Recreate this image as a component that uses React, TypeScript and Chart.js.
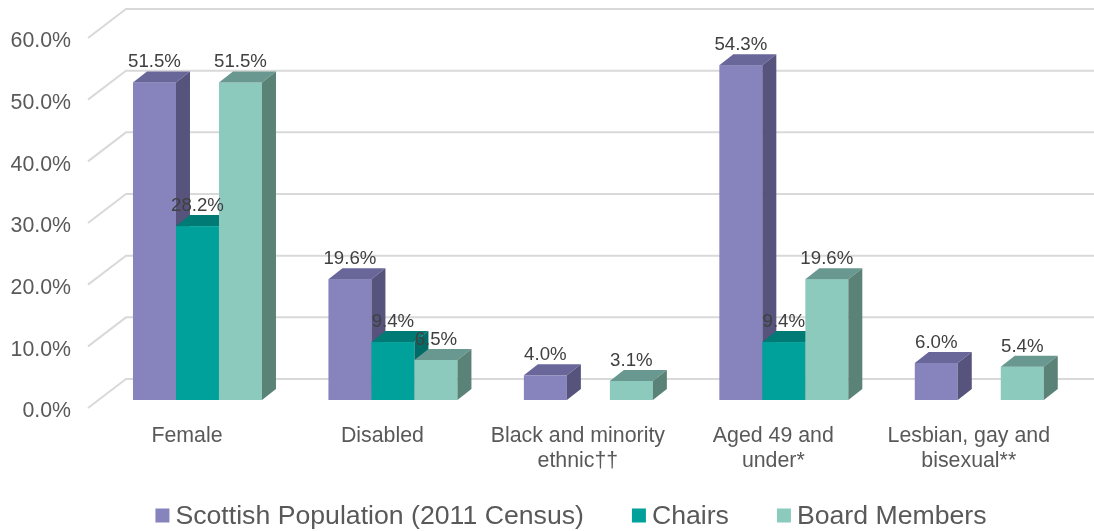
import React, { useEffect, useRef } from "react";
import { Chart, registerables } from "chart.js";

Chart.register(...registerables);

// ---------- data ----------
const categories: string[][] = [
  ["Female"],
  ["Disabled"],
  ["Black and minority", "ethnic††"],
  ["Aged 49 and", "under*"],
  ["Lesbian, gay and", "bisexual**"],
];
const seriesNames = ["Scottish Population (2011 Census)", "Chairs", "Board Members"];
const scottishPopulation: (number | null)[] = [51.5, 19.6, 4.0, 54.3, 6.0];
const chairs: (number | null)[] = [28.2, 9.4, null, 9.4, null];
const boardMembers: (number | null)[] = [51.5, 6.5, 3.1, 19.6, 5.4];
const yTickValues = [0, 10, 20, 30, 40, 50, 60];

// ---------- styles ----------
const FONT = '"Liberation Sans", Arial, Helvetica, sans-serif';
const FACE_COLORS = [
  { front: "#8784BD", top: "#69669A", side: "#56537C" },
  { front: "#00A19A", top: "#007A74", side: "#006B66" },
  { front: "#8CCABE", top: "#68988F", side: "#5A8276" },
];
const GRID_COLOR = "#D9D9D9";
const BAR_DX = 14;
const BAR_DY = -11;
const GRID_FRONT = { dx: -11.75, dy: 8 };
const GRID_BACK = { dx: 26.25, dy: -21 };
const LEGEND_CENTER_X = 571;
const LEGEND_BASELINE = 524;

const threeDPlugin = {
  id: "threeD",
  beforeDatasetsDraw(chart: any) {
    const { ctx, chartArea } = chart;
    const y = chart.scales.y;
    ctx.save();
    // perspective gridlines
    ctx.strokeStyle = GRID_COLOR;
    ctx.lineWidth = 2;
    for (const v of yTickValues) {
      const py = y.getPixelForValue(v);
      ctx.beginPath();
      ctx.moveTo(chartArea.left + GRID_FRONT.dx, py + GRID_FRONT.dy);
      ctx.lineTo(chartArea.left + GRID_BACK.dx, py + GRID_BACK.dy);
      ctx.lineTo(chart.width, py + GRID_BACK.dy);
      ctx.stroke();
    }
    // 3D bars
    chart.data.datasets.forEach((ds: any, i: number) => {
      const meta = chart.getDatasetMeta(i);
      const c = FACE_COLORS[i];
      meta.data.forEach((el: any, j: number) => {
        const v = ds.data[j];
        if (v == null) return;
        const { x, y: ty, base, width } = el.getProps(["x", "y", "base", "width"], true);
        const l = x - width / 2;
        const r = x + width / 2;
        // front
        ctx.fillStyle = c.front;
        ctx.fillRect(l, ty, width, base - ty);
        // top
        ctx.fillStyle = c.top;
        ctx.beginPath();
        ctx.moveTo(l, ty);
        ctx.lineTo(r, ty);
        ctx.lineTo(r + BAR_DX, ty + BAR_DY);
        ctx.lineTo(l + BAR_DX, ty + BAR_DY);
        ctx.closePath();
        ctx.fill();
        // side
        ctx.fillStyle = c.side;
        ctx.beginPath();
        ctx.moveTo(r, ty);
        ctx.lineTo(r + BAR_DX, ty + BAR_DY);
        ctx.lineTo(r + BAR_DX, base + BAR_DY);
        ctx.lineTo(r, base);
        ctx.closePath();
        ctx.fill();
      });
    });
    // value labels
    ctx.fillStyle = "#404040";
    ctx.font = `18.67px ${FONT}`;
    ctx.textAlign = "center";
    ctx.textBaseline = "alphabetic";
    chart.data.datasets.forEach((ds: any, i: number) => {
      const meta = chart.getDatasetMeta(i);
      meta.data.forEach((el: any, j: number) => {
        const v = ds.data[j];
        if (v == null) return;
        const { x, y: ty } = el.getProps(["x", "y"], true);
        ctx.fillText(v.toFixed(1) + "%", x, ty + BAR_DY - 4);
      });
    });
    ctx.restore();
    return false;
  },
  afterDraw(chart: any) {
    const { ctx } = chart;
    ctx.save();
    ctx.font = `26.67px ${FONT}`;
    ctx.textBaseline = "alphabetic";
    ctx.textAlign = "left";
    const box = 14;
    const gapText = 6;
    const gapItem = 48;
    const widths = chart.data.datasets.map((d: any) => ctx.measureText(d.label).width);
    const total =
      widths.reduce((a: number, w: number) => a + w + box + gapText, 0) + gapItem * (widths.length - 1);
    let x = LEGEND_CENTER_X - total / 2;
    chart.data.datasets.forEach((d: any, i: number) => {
      ctx.fillStyle = FACE_COLORS[i].front;
      ctx.fillRect(x, LEGEND_BASELINE - 15.5, box, box);
      ctx.fillStyle = "#595959";
      ctx.fillText(d.label, x + box + gapText, LEGEND_BASELINE);
      x += box + gapText + widths[i] + gapItem;
    });
    ctx.restore();
  },
};

export default function App() {
  const ref = useRef<HTMLCanvasElement>(null);
  useEffect(() => {
    const chart = new Chart(ref.current as HTMLCanvasElement, {
      type: "bar",
      data: {
        labels: categories,
        datasets: [
          { label: seriesNames[0], data: scottishPopulation, backgroundColor: FACE_COLORS[0].front },
          { label: seriesNames[1], data: chairs, backgroundColor: FACE_COLORS[1].front },
          { label: seriesNames[2], data: boardMembers, backgroundColor: FACE_COLORS[2].front },
        ],
      },
      options: {
        responsive: false,
        animation: false,
        events: [],
        layout: { padding: { top: 30, right: 17, left: 0, bottom: 0 } },
        datasets: { bar: { categoryPercentage: 0.66, barPercentage: 1 } },
        plugins: { legend: { display: false }, tooltip: { enabled: false } },
        scales: {
          x: {
            grid: { display: false, drawTicks: false },
            border: { display: false },
            ticks: {
              color: "#595959",
              font: { family: FONT, size: 21.33, lineHeight: 1.2 },
              padding: 23,
              labelOffset: -10.5,
              maxRotation: 0,
              autoSkip: false,
            },
            afterFit: (s: any) => {
              s.height = 131;
              s.paddingLeft = 0;
              s.paddingRight = 0;
            },
          },
          y: {
            min: 0,
            max: 60,
            grid: { display: false, drawTicks: false },
            border: { display: false },
            ticks: {
              stepSize: 10,
              color: "#595959",
              font: { family: FONT, size: 21.33 },
              padding: 28.75,
              labelOffset: 11.5,
              callback: (v: any) => Number(v).toFixed(1) + "%",
            },
            afterFit: (s: any) => {
              s.width = 99.75;
              s.paddingTop = 0;
              s.paddingBottom = 0;
            },
          },
        },
      },
      plugins: [threeDPlugin],
    } as any);
    return () => chart.destroy();
  }, []);
  return (
    <div style={{ position: "fixed", left: 0, top: 0, width: 1094, height: 531, background: "#fff" }}>
      <canvas ref={ref} width={1094} height={531} style={{ display: "block" }} />
    </div>
  );
}
